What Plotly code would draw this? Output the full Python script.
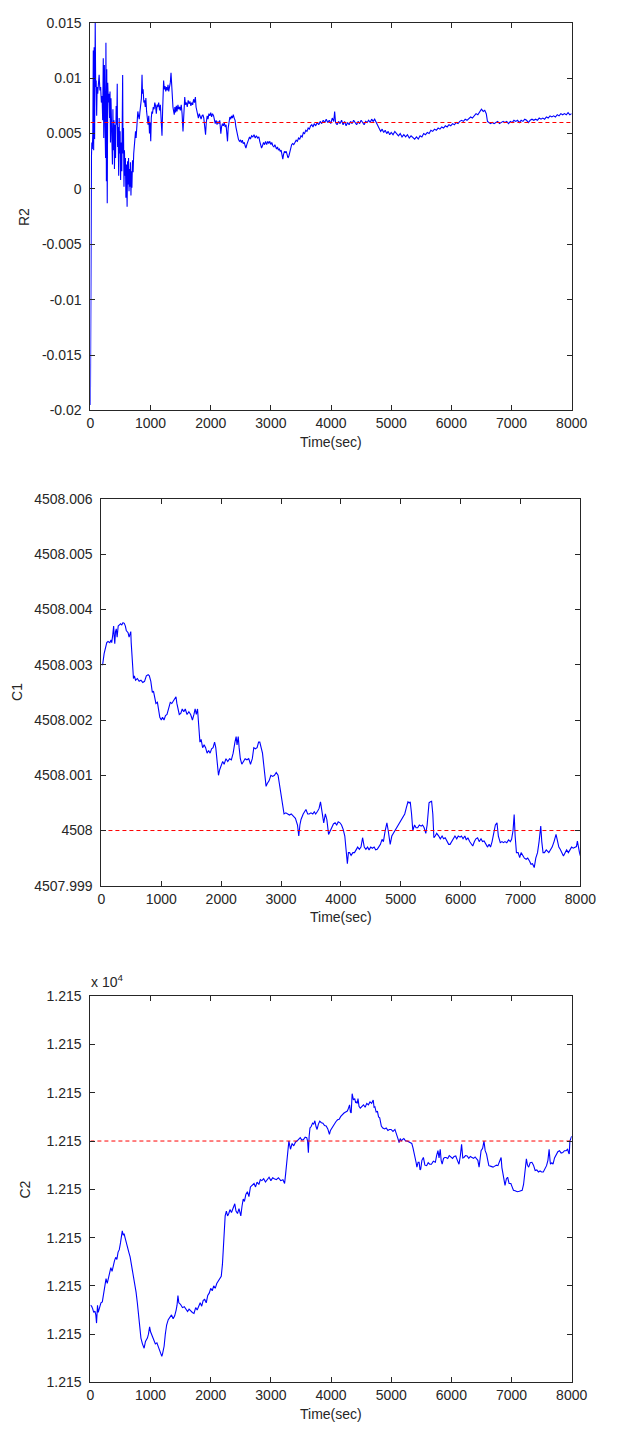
import plotly.graph_objects as go

# ---------------------------------------------------------------
# Estimated parameters over time (three estimators)
# ---------------------------------------------------------------
time_ticks = [0, 1000, 2000, 3000, 4000, 5000, 6000, 7000, 8000]
time_tick_text = ["0", "1000", "2000", "3000", "4000", "5000", "6000", "7000", "8000"]

# --- R2 estimate -------------------------------------------------
r2_time = [
    0, 4, 8, 12, 18, 24, 32, 40, 48, 54, 62, 70, 80, 88, 96, 104, 112, 122, 132, 145,
    158, 170, 182, 194, 204, 214, 222, 232, 242, 252, 258, 266, 272, 280, 288, 298, 308, 318, 326, 334,
    342, 350, 358, 366, 374, 382, 392, 400, 410, 418, 428, 438, 446, 452, 460, 470, 478, 486, 494, 502,
    512, 522, 530, 536, 542, 550, 558, 566, 574, 582, 590, 600, 610, 618, 626, 634, 642, 650, 658, 666,
    674, 682, 690, 700, 710, 720, 735, 750, 760, 770, 788, 800, 812, 822, 835, 848, 858, 866, 876, 888,
    900, 912, 922, 934, 946, 958, 970, 982, 992, 1003, 1012, 1022, 1032, 1045, 1058, 1070, 1083, 1096, 1108, 1120,
    1135, 1150, 1163, 1176, 1190, 1200, 1208, 1217, 1228, 1240, 1252, 1264, 1278, 1290, 1302, 1315, 1328, 1340, 1350, 1362,
    1372, 1384, 1394, 1404, 1416, 1428, 1440, 1455, 1468, 1482, 1496, 1510, 1524, 1539, 1550, 1560, 1568, 1580, 1595, 1610,
    1625, 1640, 1655, 1670, 1685, 1700, 1715, 1730, 1745, 1756, 1770, 1782, 1795, 1810, 1825, 1840, 1855, 1870, 1885, 1898,
    1914, 1926, 1941, 1955, 1970, 1985, 2000, 2015, 2030, 2048, 2062, 2075, 2090, 2105, 2120, 2135, 2150, 2162, 2168, 2180,
    2195, 2210, 2225, 2240, 2255, 2268, 2279, 2290, 2305, 2318, 2332, 2346, 2360, 2375, 2390, 2405, 2418, 2430, 2445, 2460,
    2477, 2495, 2510, 2525, 2540, 2558, 2572, 2585, 2600, 2615, 2630, 2645, 2660, 2680, 2700, 2720, 2740, 2760, 2780, 2800,
    2815, 2830, 2845, 2860, 2878, 2895, 2912, 2930, 2948, 2965, 2982, 3000, 3015, 3032, 3050, 3066, 3080, 3094, 3110, 3125,
    3140, 3155, 3170, 3185, 3198, 3210, 3225, 3240, 3255, 3270, 3285, 3300, 3315, 3330, 3345, 3362, 3380, 3400, 3420, 3440,
    3460, 3480, 3500, 3520, 3540, 3560, 3580, 3600, 3620, 3640, 3660, 3680, 3700, 3720, 3745, 3770, 3795, 3820, 3845, 3870,
    3895, 3920, 3945, 3970, 3995, 4020, 4045, 4060, 4075, 4100, 4125, 4150, 4175, 4200, 4225, 4250, 4275, 4300, 4325, 4350,
    4375, 4400, 4425, 4450, 4475, 4500, 4525, 4550, 4575, 4600, 4625, 4650, 4675, 4700, 4725, 4750, 4775, 4800, 4825, 4850,
    4875, 4900, 4925, 4950, 4975, 5000, 5030, 5060, 5090, 5120, 5150, 5180, 5210, 5240, 5270, 5300, 5330, 5360, 5390, 5420,
    5450, 5480, 5510, 5540, 5570, 5600, 5630, 5660, 5690, 5720, 5750, 5780, 5810, 5840, 5870, 5900, 5930, 5960, 5990, 6020,
    6050, 6080, 6110, 6140, 6170, 6200, 6230, 6260, 6290, 6320, 6350, 6380, 6410, 6440, 6470, 6500, 6530, 6555, 6580, 6600,
    6625, 6650, 6680, 6710, 6740, 6770, 6800, 6830, 6860, 6890, 6920, 6950, 6980, 7010, 7040, 7070, 7100, 7130, 7160, 7190,
    7220, 7250, 7280, 7310, 7340, 7370, 7400, 7430, 7460, 7490, 7520, 7550, 7580, 7610, 7640, 7670, 7700, 7730, 7760, 7790,
    7820, 7850, 7880, 7910, 7940, 7970, 8000,
]
r2_value = [
    -0.0195, -0.005, 0.002, -0.0085, 0.003, 0.0042, 0.0036, 0.005, 0.0125, 0.0035, 0.0128, 0.0045, 0.015, 0.0092, 0.0098, 0.0066, 0.0092, 0.0086, 0.0094, 0.0103,
    0.0089, 0.0092, 0.0078, 0.0084, 0.0062, 0.0118, 0.0046, 0.0112, 0.0062, 0.0028, 0.0132, 0.0007, 0.0108, -0.0013, 0.0096, 0.0078, 0.0086, 0.0064, 0.0088, 0.0042,
    0.0082, 0.0048, 0.0065, 0.0022, 0.0072, 0.0035, 0.0062, 0.0018, 0.0058, 0.0028, 0.0075, 0.0058, 0.0095, 0.0038, 0.0056, 0.0012, 0.0064, 0.0032, 0.0052, 0.0008,
    0.0042, 0.0016, 0.0098, 0.0103, 0.0032, 0.0055, 0.0002, 0.0035, 0.0012, 0.0028, -0.0008, 0.0022, -0.0016, 0.0025, 0.0004, 0.0028, -0.0002, 0.0018, 0.0002, 0.0024,
    -0.0006, 0.0016, 0.0001, 0.0026, 0.0015, 0.0032, 0.0045, 0.0052, 0.0046, 0.0058, 0.0070, 0.0066, 0.0063, 0.0069, 0.0076, 0.0082, 0.0103, 0.0086, 0.0090, 0.0078,
    0.0080, 0.0074, 0.0082, 0.0070, 0.0062, 0.0058, 0.0066, 0.0050, 0.0060, 0.0043, 0.0064, 0.0070, 0.0068, 0.0074, 0.0072, 0.0078, 0.0075, 0.0068, 0.0076, 0.0074,
    0.0078, 0.0071, 0.0076, 0.0060, 0.0048, 0.0070, 0.0084, 0.0098, 0.0090, 0.0093, 0.0088, 0.0092, 0.0089, 0.0094, 0.0088, 0.0092, 0.0096, 0.0105, 0.0090, 0.0082,
    0.0074, 0.0070, 0.0067, 0.0074, 0.0069, 0.0075, 0.0070, 0.0076, 0.0072, 0.0074, 0.0071, 0.0076, 0.0068, 0.0052, 0.0066, 0.0078, 0.0083, 0.0076, 0.0078, 0.0074,
    0.0080, 0.0077, 0.0079, 0.0075, 0.0078, 0.0076, 0.0081, 0.0078, 0.0083, 0.0074, 0.0070, 0.0066, 0.0064, 0.0068, 0.0066, 0.0063, 0.0066, 0.0067, 0.0064, 0.0058,
    0.0049, 0.0060, 0.0066, 0.0063, 0.0068, 0.0066, 0.0069, 0.0065, 0.0068, 0.0066, 0.0061, 0.0059, 0.0062, 0.0058, 0.0061, 0.0059, 0.0062, 0.0055, 0.0050, 0.0056,
    0.0059, 0.0057, 0.0060, 0.0056, 0.0058, 0.0050, 0.0043, 0.0055, 0.0062, 0.0065, 0.0063, 0.0066, 0.0064, 0.0067, 0.0064, 0.0062, 0.0056, 0.0052, 0.0048, 0.0045,
    0.0043, 0.0044, 0.0042, 0.0044, 0.0041, 0.0042, 0.0039, 0.0037, 0.0040, 0.0043, 0.0046, 0.0047, 0.0045, 0.0048, 0.0047, 0.0049, 0.0046, 0.0048, 0.0046, 0.0047,
    0.0043, 0.0040, 0.0037, 0.0039, 0.0042, 0.0040, 0.0043, 0.0040, 0.0043, 0.0041, 0.0043, 0.0040, 0.0042, 0.0039, 0.0038, 0.0040, 0.0037, 0.0036, 0.0038, 0.0035,
    0.0036, 0.0034, 0.0035, 0.0031, 0.0027, 0.0031, 0.0034, 0.0033, 0.0034, 0.0031, 0.0028, 0.0030, 0.0034, 0.0038, 0.0040, 0.0041, 0.0040, 0.0042, 0.0044, 0.0043,
    0.0046, 0.0045, 0.0048, 0.0047, 0.0051, 0.0050, 0.0053, 0.0052, 0.0055, 0.0054, 0.0057, 0.0058, 0.0056, 0.0059, 0.0057, 0.0060, 0.0058, 0.0061, 0.0059, 0.0062,
    0.0060, 0.0063, 0.0060, 0.0062, 0.0059, 0.0064, 0.0061, 0.0070, 0.0060, 0.0058, 0.0061, 0.0059, 0.0062, 0.0058, 0.0061, 0.0057, 0.0060, 0.0058, 0.0061, 0.0059,
    0.0062, 0.0060, 0.0058, 0.0061, 0.0059, 0.0062, 0.0060, 0.0058, 0.0061, 0.0060, 0.0062, 0.0060, 0.0063, 0.0061, 0.0063, 0.0060, 0.0057, 0.0055, 0.0052, 0.0054,
    0.0051, 0.0053, 0.0050, 0.0052, 0.0049, 0.0051, 0.0049, 0.0052, 0.0050, 0.0048, 0.0050, 0.0047, 0.0049, 0.0047, 0.0049, 0.0046, 0.0048, 0.0046, 0.0045, 0.0047,
    0.0045, 0.0048, 0.0047, 0.0050, 0.0049, 0.0051, 0.0050, 0.0053, 0.0052, 0.0054, 0.0053, 0.0055, 0.0054, 0.0056, 0.0055, 0.0057, 0.0056, 0.0058, 0.0057, 0.0059,
    0.0058, 0.0060, 0.0059, 0.0061, 0.0062, 0.0061, 0.0063, 0.0062, 0.0064, 0.0065, 0.0064, 0.0066, 0.0068, 0.0067, 0.0070, 0.0072, 0.0070, 0.0071, 0.0068, 0.0061,
    0.0060, 0.0059, 0.0060, 0.0059, 0.0060, 0.0061, 0.0059, 0.0060, 0.0061, 0.0060, 0.0061, 0.0059, 0.0061, 0.0060, 0.0062, 0.0061, 0.0062, 0.0060, 0.0062, 0.0061,
    0.0063, 0.0062, 0.0060, 0.0062, 0.0063, 0.0062, 0.0063, 0.0062, 0.0064, 0.0063, 0.0064, 0.0063, 0.0065, 0.0064, 0.0066, 0.0065, 0.0066, 0.0065, 0.0067, 0.0066,
    0.0068, 0.0067, 0.0068, 0.0067, 0.0069, 0.0067, 0.0068,
]
r2_true = 0.006
r2_ticks = [-0.02, -0.015, -0.01, -0.005, 0, 0.005, 0.01, 0.015]
r2_tick_text = ["-0.02", "-0.015", "-0.01", "-0.005", "0", "0.005", "0.01", "0.015"]

# --- C1 estimate -------------------------------------------------
c1_time = [
    0, 20, 45, 70, 89, 110, 140, 160, 172, 190, 204, 214, 223, 235, 248, 262, 280, 300, 320, 340,
    360, 382, 400, 415, 427, 445, 462, 478, 490, 497, 510, 522, 535, 550, 570, 600, 630, 660, 690, 720,
    750, 780, 800, 825, 850, 870, 890, 910, 935, 955, 975, 1000, 1020, 1045, 1070, 1095, 1120, 1150, 1175, 1200,
    1225, 1245, 1260, 1280, 1300, 1325, 1350, 1375, 1400, 1430, 1460, 1490, 1520, 1545, 1565, 1585, 1605, 1625, 1645, 1665,
    1690, 1715, 1740, 1765, 1790, 1815, 1840, 1865, 1890, 1910, 1930, 1955, 1975, 2000, 2025, 2050, 2080, 2110, 2140, 2170,
    2200, 2230, 2250, 2265, 2285, 2300, 2320, 2345, 2370, 2400, 2430, 2460, 2490, 2520, 2545, 2570, 2600, 2625, 2645, 2665,
    2690, 2710, 2730, 2750, 2770, 2800, 2830, 2860, 2890, 2920, 2950, 2975, 3000, 3025, 3050, 3080, 3110, 3140, 3170, 3199,
    3240, 3275, 3296, 3315, 3334, 3370, 3416, 3445, 3470, 3500, 3530, 3555, 3578, 3610, 3635, 3659, 3675, 3690, 3713, 3740,
    3765, 3794, 3820, 3848, 3875, 3903, 3930, 3955, 3984, 4010, 4038, 4065, 4092, 4108, 4125, 4146, 4170, 4200, 4227, 4255,
    4280, 4308, 4335, 4362, 4390, 4417, 4445, 4470, 4498, 4525, 4555, 4580, 4606, 4630, 4660, 4687, 4710, 4740, 4768, 4790,
    4823, 4850, 4877, 4905, 4930, 4960, 4985, 5010, 5040, 5066, 5090, 5120, 5140, 5158, 5180, 5201, 5230, 5255, 5282, 5310,
    5340, 5364, 5390, 5418, 5440, 5460, 5472, 5495, 5515, 5535, 5553, 5575, 5600, 5634, 5660, 5690, 5715, 5742, 5770, 5800,
    5823, 5850, 5880, 5905, 5935, 5960, 5990, 6013, 6040, 6070, 6095, 6121, 6150, 6175, 6202, 6230, 6255, 6283, 6310, 6340,
    6365, 6391, 6420, 6450, 6475, 6499, 6525, 6553, 6580, 6607, 6630, 6662, 6690, 6715, 6740, 6770, 6800, 6830, 6851, 6875,
    6894, 6910, 6932, 6960, 6986, 7010, 7040, 7065, 7095, 7120, 7150, 7175, 7200, 7229, 7255, 7284, 7310, 7338, 7355, 7376,
    7400, 7430, 7473, 7500, 7528, 7560, 7593, 7620, 7640, 7663, 7690, 7717, 7745, 7770, 7799, 7825, 7853, 7880, 7905, 7934,
    7950, 7965, 7985, 8000,
]
c1_value = [
    4508.0030, 4508.0030, 4508.0032, 4508.0033, 4508.0034, 4508.00342, 4508.0034, 4508.00345, 4508.0034, 4508.00355,
    4508.0037, 4508.0035, 4508.00338, 4508.0036, 4508.00365, 4508.0035, 4508.0037, 4508.00372, 4508.00374, 4508.00372,
    4508.00376, 4508.00375, 4508.0037, 4508.00362, 4508.0036, 4508.00358, 4508.0035, 4508.00355, 4508.0036, 4508.0034,
    4508.0031, 4508.0029, 4508.00275, 4508.0028, 4508.00272, 4508.00275, 4508.0027, 4508.00272, 4508.00268, 4508.0027,
    4508.0028, 4508.00282, 4508.0028, 4508.0027, 4508.0025, 4508.00252, 4508.0024, 4508.0023, 4508.00232, 4508.0022,
    4508.00205, 4508.0020, 4508.00205, 4508.0020, 4508.00208, 4508.0021, 4508.0022, 4508.00232, 4508.0023, 4508.00235,
    4508.0024, 4508.00242, 4508.0023, 4508.0022, 4508.0021, 4508.00212, 4508.0022, 4508.00215, 4508.0022, 4508.0021,
    4508.00215, 4508.0021, 4508.0020, 4508.0021, 4508.0022, 4508.0021, 4508.0022, 4508.0019, 4508.0016, 4508.00165,
    4508.0015, 4508.00155, 4508.0015, 4508.0014, 4508.00145, 4508.0014, 4508.00148, 4508.0015, 4508.0016, 4508.0015,
    4508.0013, 4508.0010, 4508.0011, 4508.0012, 4508.00125, 4508.0012, 4508.0013, 4508.00125, 4508.0013, 4508.00128,
    4508.0014, 4508.0016, 4508.0017, 4508.00155, 4508.0017, 4508.0015, 4508.0013, 4508.0012, 4508.00125, 4508.0013,
    4508.00128, 4508.0013, 4508.0012, 4508.0013, 4508.0015, 4508.00148, 4508.0015, 4508.0016, 4508.0016, 4508.0015,
    4508.0014, 4508.0012, 4508.0010, 4508.0008, 4508.00085, 4508.0009, 4508.0010, 4508.00098, 4508.0010, 4508.00105,
    4508.0010, 4508.0008, 4508.0006, 4508.0005, 4508.0003, 4508.00032, 4508.0003, 4508.00028, 4508.0003, 4508.00026,
    4508.00022, 4508.0001, 4507.9999, 4508.0001, 4508.0002, 4508.0003, 4508.00038, 4508.0003, 4508.0003, 4508.00032,
    4508.0003, 4508.00034, 4508.0003, 4508.00035, 4508.0004, 4508.00052, 4508.0004, 4508.0003, 4508.00014, 4508.0003,
    4508.0002, 4507.99993, 4508.0000, 4508.00008, 4508.00012, 4508.00014, 4508.0001, 4508.00016, 4508.00014, 4508.0001,
    4508.00002, 4507.9999, 4507.99963, 4507.9994, 4507.9996, 4507.9996, 4507.99955, 4507.9996, 4507.9996, 4507.99965,
    4507.9997, 4507.99966, 4507.9997, 4507.99987, 4507.9997, 4507.99966, 4507.9997, 4507.99965, 4507.9997, 4507.99968,
    4507.9997, 4507.99965, 4507.99966, 4507.9997, 4507.99975, 4507.99984, 4507.9998, 4508.0000, 4508.00014, 4508.0000,
    4507.99975, 4507.9999, 4507.99995, 4508.0000, 4508.00005, 4508.0001, 4508.00017, 4508.0002, 4508.00025, 4508.0003,
    4508.0004, 4508.00052, 4508.0005, 4508.00052, 4508.0003, 4508.0000, 4508.0001, 4508.00005, 4508.00005, 4508.0001,
    4508.00008, 4508.0001, 4508.00005, 4507.99995, 4508.0001, 4508.0004, 4508.0005, 4508.00052, 4508.00053, 4508.0003,
    4507.99987, 4507.9999, 4507.99995, 4507.9999, 4507.99985, 4507.9999, 4507.99985, 4507.99987, 4507.9998, 4507.99975,
    4507.99975, 4507.9998, 4507.99985, 4507.9999, 4507.99985, 4507.9999, 4507.99988, 4507.9999, 4507.99985, 4507.9999,
    4507.99983, 4507.99987, 4507.9998, 4507.99975, 4507.99972, 4507.9998, 4507.99985, 4507.99987, 4507.9998, 4507.99985,
    4507.9998, 4507.99981, 4507.99975, 4507.9997, 4507.99975, 4507.9997, 4507.9998, 4507.99998, 4508.0001, 4508.00014,
    4507.9999, 4507.99978, 4507.9998, 4507.99978, 4507.9998, 4507.99978, 4507.99983, 4507.9998, 4507.99984, 4508.0000,
    4508.00029, 4507.9999, 4507.9996, 4507.9996, 4507.99951, 4507.9996, 4507.99955, 4507.9995, 4507.99948, 4507.9995,
    4507.99945, 4507.99939, 4507.9994, 4507.99933, 4507.9995, 4507.9996, 4507.9998, 4508.00008, 4507.9998, 4507.9996,
    4507.9996, 4507.99965, 4507.9996, 4507.99965, 4507.9997, 4507.9998, 4507.99993, 4507.9998, 4507.9997, 4507.99966,
    4507.9996, 4507.99954, 4507.9996, 4507.99965, 4507.9996, 4507.99965, 4507.9997, 4507.99968, 4507.9997, 4507.99971,
    4507.99981, 4507.9997, 4507.9996, 4507.99954,
]
c1_true = 4508.0
c1_ticks = [4507.999, 4508.0, 4508.001, 4508.002, 4508.003, 4508.004, 4508.005, 4508.006]
c1_tick_text = ["4507.999", "4508", "4508.001", "4508.002", "4508.003", "4508.004", "4508.005", "4508.006"]

# --- C2 estimate (deviation from nominal, in units of 1e-3) ------
c2_time = [
    0, 20, 37, 55, 75, 90, 102, 110, 118, 130, 144, 152, 160, 175, 198, 215, 225, 245, 260, 280,
    300, 320, 340, 360, 380, 400, 420, 440, 460, 480, 500, 515, 530, 545, 560, 580, 600, 620, 640, 660,
    680, 700, 720, 740, 759, 780, 802, 820, 840, 865, 893, 915, 947, 965, 984, 1000, 1027, 1050, 1080, 1105,
    1134, 1160, 1187, 1200, 1212, 1225, 1245, 1267, 1294, 1320, 1348, 1375, 1401, 1425, 1440, 1455, 1470, 1497, 1530, 1561,
    1590, 1615, 1640, 1668, 1695, 1722, 1750, 1775, 1800, 1825, 1850, 1875, 1900, 1925, 1950, 1975, 2000, 2025, 2050, 2075,
    2100, 2125, 2150, 2175, 2195, 2210, 2225, 2240, 2260, 2280, 2300, 2320, 2345, 2370, 2400, 2420, 2445, 2470, 2500, 2520,
    2540, 2560, 2585, 2610, 2635, 2660, 2690, 2720, 2745, 2770, 2800, 2825, 2850, 2880, 2910, 2940, 2970, 3000, 3030, 3056,
    3090, 3125, 3164, 3200, 3228, 3245, 3272, 3299, 3326, 3353, 3380, 3410, 3434, 3460, 3488, 3515, 3542, 3570, 3596, 3610,
    3623, 3636, 3650, 3670, 3693, 3712, 3731, 3750, 3768, 3790, 3812, 3840, 3865, 3892, 3919, 3946, 3973, 3990, 4000, 4027,
    4054, 4080, 4108, 4135, 4162, 4190, 4216, 4243, 4270, 4290, 4308, 4322, 4335, 4351, 4372, 4394, 4408, 4421, 4435, 4448,
    4465, 4486, 4513, 4540, 4567, 4594, 4620, 4648, 4675, 4701, 4715, 4729, 4750, 4772, 4790, 4809, 4836, 4860, 4890, 4917,
    4945, 4970, 4998, 5030, 5062, 5094, 5112, 5131, 5150, 5170, 5185, 5210, 5240, 5266, 5295, 5320, 5342, 5362, 5385, 5400,
    5415, 5427, 5447, 5464, 5480, 5491, 5510, 5535, 5560, 5589, 5615, 5640, 5669, 5700, 5734, 5755, 5777, 5795, 5815, 5830,
    5847, 5870, 5890, 5912, 5940, 5965, 5992, 6020, 6045, 6073, 6100, 6127, 6150, 6170, 6190, 6208, 6235, 6262, 6290, 6315,
    6343, 6370, 6395, 6423, 6440, 6461, 6478, 6494, 6520, 6542, 6562, 6585, 6605, 6623, 6650, 6675, 6693, 6720, 6750, 6774,
    6800, 6827, 6840, 6854, 6872, 6892, 6915, 6935, 6960, 6989, 7010, 7032, 7060, 7096, 7130, 7155, 7177, 7200, 7215, 7230,
    7247, 7265, 7285, 7310, 7339, 7365, 7393, 7420, 7447, 7475, 7500, 7528, 7555, 7582, 7605, 7625, 7640, 7647, 7670, 7690,
    7715, 7744, 7770, 7798, 7825, 7852, 7880, 7906, 7933, 7950, 7960, 7970, 7985, 8000,
]
c2_offset_milli = [
    -3.40, -3.42, -3.47, -3.55, -3.52, -3.60, -3.77, -3.55, -3.40, -3.55, -3.50, -3.45, -3.43, -3.35, -3.33, -3.20, -3.13, -3.05, -2.85, -2.95,
    -2.82, -2.75, -2.62, -2.70, -2.55, -2.48, -2.41, -2.45, -2.30, -2.25, -2.11, -2.00, -1.86, -1.95, -1.92, -2.02, -2.10, -2.20, -2.31, -2.40,
    -2.55, -2.70, -2.82, -2.95, -3.13, -3.35, -3.60, -3.85, -4.08, -4.20, -4.29, -4.15, -4.08, -4.00, -3.85, -3.95, -4.05, -4.10, -4.20, -4.18,
    -4.29, -4.35, -4.46, -4.40, -4.35, -4.25, -4.00, -3.81, -3.70, -3.65, -3.60, -3.68, -3.62, -3.50, -3.40, -3.20, -3.35, -3.38, -3.45, -3.43,
    -3.50, -3.53, -3.48, -3.52, -3.55, -3.57, -3.45, -3.50, -3.40, -3.35, -3.42, -3.30, -3.28, -3.35, -3.20, -3.15, -3.05, -3.10, -3.00, -3.05,
    -2.95, -2.90, -2.85, -2.80, -2.55, -2.20, -1.80, -1.55, -1.45, -1.55, -1.50, -1.42, -1.48, -1.40, -1.30, -1.45, -1.50, -1.40, -1.55, -1.35,
    -1.20, -1.25, -1.10, -1.05, -1.15, -0.95, -0.92, -0.88, -0.95, -0.85, -0.90, -0.80, -0.82, -0.78, -0.85, -0.80, -0.75, -0.82, -0.76, -0.78,
    -0.80, -0.76, -0.82, -0.80, -0.88, -0.68, -0.34, 0.00, -0.17, -0.05, -0.10, -0.02, 0.00, 0.03, 0.07, 0.02, 0.03, 0.08, 0.07, 0.00,
    -0.24, 0.10, 0.27, 0.30, 0.37, 0.35, 0.42, 0.30, 0.24, 0.35, 0.41, 0.38, 0.37, 0.32, 0.31, 0.25, 0.14, 0.22, 0.24, 0.30,
    0.37, 0.40, 0.44, 0.45, 0.51, 0.55, 0.58, 0.60, 0.62, 0.68, 0.75, 0.60, 0.58, 0.98, 0.85, 0.88, 0.80, 0.81, 0.78, 0.88,
    0.72, 0.68, 0.72, 0.75, 0.70, 0.78, 0.75, 0.81, 0.78, 0.85, 0.70, 0.71, 0.60, 0.61, 0.50, 0.48, 0.31, 0.27, 0.25, 0.27,
    0.22, 0.24, 0.24, 0.20, 0.24, 0.14, 0.05, -0.03, 0.05, 0.00, 0.03, 0.05, 0.00, 0.00, -0.02, -0.03, -0.05, -0.14, -0.25, -0.34,
    -0.45, -0.54, -0.44, -0.44, -0.60, -0.58, -0.40, -0.34, -0.50, -0.51, -0.45, -0.48, -0.48, -0.42, -0.44, -0.30, -0.20, -0.35, -0.17, -0.40,
    -0.48, -0.36, -0.34, -0.34, -0.36, -0.30, -0.34, -0.36, -0.32, -0.31, -0.40, -0.48, -0.30, -0.07, -0.35, -0.34, -0.30, -0.31, -0.36, -0.32,
    -0.34, -0.36, -0.33, -0.37, -0.40, -0.54, -0.35, -0.20, -0.15, 0.00, -0.20, -0.27, -0.40, -0.51, -0.52, -0.54, -0.54, -0.52, -0.50, -0.51,
    -0.40, -0.34, -0.55, -0.68, -0.80, -0.92, -0.78, -0.75, -0.88, -0.88, -0.95, -1.02, -1.03, -1.05, -1.04, -1.02, -1.02, -0.90, -0.71, -0.55,
    -0.37, -0.50, -0.54, -0.45, -0.44, -0.50, -0.61, -0.60, -0.64, -0.62, -0.64, -0.64, -0.58, -0.51, -0.40, -0.17, -0.40, -0.48, -0.45, -0.48,
    -0.35, -0.27, -0.22, -0.20, -0.25, -0.24, -0.20, -0.20, -0.17, -0.25, -0.27, 0.00, 0.05, 0.10,
]
c2_nominal = 12150.0
c2_true = 12150.0
c2_tick_offsets_milli = [-5, -4, -3, -2, -1, 0, 1, 2, 3]
c2_tick_text = ["1.215"] * 9

# ---------------------------------------------------------------
# Figure layout
# ---------------------------------------------------------------
W, H = 617, 1434
FONT = "Liberation Sans, Arial, Helvetica, sans-serif"
INK = "#262626"
FS = 14


def px_x(x):
    return x / W


def px_y(y):
    return 1 - y / H


# axes boxes (left, right, top, bottom) in pixels
boxes = [
    (89.3, 586.7, 15.0, 407.0),
    (100.7, 595.7, 496.5, 887.7),
    (89.3, 586.7, 999.3, 1390.0),
]

c2_y = [c2_nominal + d * 1e-3 for d in c2_offset_milli]
c2_tickvals = [c2_nominal + d * 1e-3 for d in c2_tick_offsets_milli]

series = [
    (r2_time, r2_value, r2_true, r2_ticks, r2_tick_text, [-0.02, 0.015], "R2"),
    (c1_time, c1_value, c1_true, c1_ticks, c1_tick_text, [4507.999, 4508.006], "C1"),
    (c2_time, c2_y, c2_true, c2_tickvals, c2_tick_text, [c2_tickvals[0], c2_tickvals[-1]], "C2"),
]

fig = go.Figure()
layout = dict(
    width=W,
    height=H,
    margin=dict(l=0, r=0, t=0, b=0),
    paper_bgcolor="white",
    plot_bgcolor="white",
    showlegend=False,
    font=dict(family=FONT, size=FS, color=INK),
)

annotations = []
ylabel_x = [20, 14, 22]

for i, (t, v, ref, yt, ytt, yr, name) in enumerate(series):
    n = "" if i == 0 else str(i + 1)
    xa, ya = "x" + n, "y" + n
    left, right, top, bottom = boxes[i]

    fig.add_trace(go.Scatter(
        x=t, y=v, mode="lines", xaxis=xa, yaxis=ya,
        line=dict(color="#0000ff", width=1.1), hoverinfo="skip",
    ))
    fig.add_trace(go.Scatter(
        x=[time_ticks[0], time_ticks[-1]], y=[ref, ref], mode="lines", xaxis=xa, yaxis=ya,
        line=dict(color="#ff0000", width=1, dash="4px,3px"), hoverinfo="skip",
    ))

    axis_common = dict(
        showline=True, linecolor=INK, linewidth=1, mirror="ticks",
        ticks="inside", ticklen=5, tickwidth=1, tickcolor=INK,
        showgrid=False, zeroline=False,
        tickfont=dict(family=FONT, size=FS, color=INK),
    )
    layout["xaxis" + n] = dict(
        axis_common,
        domain=[px_x(left), px_x(right)],
        anchor=ya,
        range=[time_ticks[0], time_ticks[-1]],
        tickmode="array", tickvals=time_ticks, ticktext=time_tick_text,
        ticklabelstandoff=0,
    )
    layout["yaxis" + n] = dict(
        axis_common,
        domain=[px_y(bottom), px_y(top)],
        anchor=xa,
        range=yr,
        tickmode="array", tickvals=yt, ticktext=ytt,
        ticklabelstandoff=5,
    )

    annotations.append(dict(
        text="Time(sec)", xref="paper", yref="paper",
        x=px_x((left + right) / 2), y=px_y(bottom + 32),
        xanchor="center", yanchor="middle", showarrow=False,
        font=dict(family=FONT, size=FS, color=INK),
    ))
    annotations.append(dict(
        text=name, xref="paper", yref="paper", textangle=-90,
        x=px_x(ylabel_x[i]), y=px_y((top + bottom) / 2),
        xanchor="center", yanchor="middle", showarrow=False,
        font=dict(family=FONT, size=FS, color=INK),
    ))

# exponent marker of the C2 axis
annotations.append(dict(
    text="x 10<sup>4</sup>", xref="paper", yref="paper",
    x=px_x(boxes[2][0] - 1), y=px_y(boxes[2][2] - 4),
    xanchor="left", yanchor="bottom", showarrow=False,
    font=dict(family=FONT, size=FS, color=INK),
))

layout["annotations"] = annotations
fig.update_layout(**layout)
fig.write_html("out.html")
